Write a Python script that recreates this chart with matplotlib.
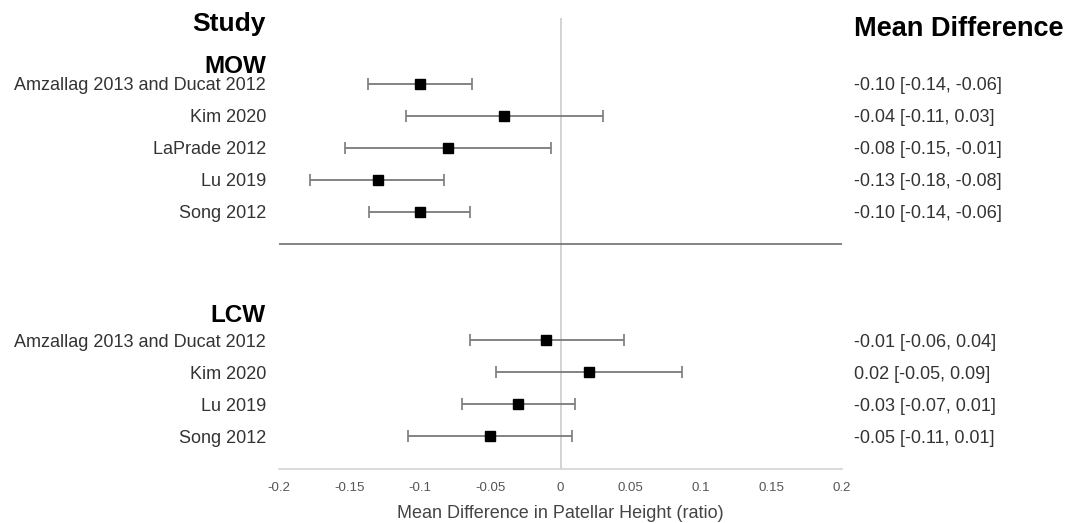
import matplotlib.pyplot as plt
from matplotlib.transforms import blended_transform_factory

# Subgroup MOW
mow_studies = ["Amzallag 2013 and Ducat 2012", "Kim 2020", "LaPrade 2012", "Lu 2019", "Song 2012"]
mow_mean = [-0.10, -0.04, -0.08, -0.13, -0.10]
mow_lo = [-0.137, -0.11, -0.153, -0.178, -0.136]
mow_hi = [-0.063, 0.03, -0.007, -0.083, -0.064]

# Subgroup LCW
lcw_studies = ["Amzallag 2013 and Ducat 2012", "Kim 2020", "Lu 2019", "Song 2012"]
lcw_mean = [-0.01, 0.02, -0.03, -0.05]
lcw_lo = [-0.064, -0.046, -0.070, -0.108]
lcw_hi = [0.045, 0.086, 0.010, 0.008]

xticks = [-0.2, -0.15, -0.1, -0.05, 0, 0.05, 0.1, 0.15, 0.2]
xtick_labels = ["-0.2", "-0.15", "-0.1", "-0.05", "0", "0.05", "0.1", "0.15", "0.2"]

plt.rcParams['font.family'] = ['Liberation Sans', 'DejaVu Sans']

W, H = 1069, 523
fig = plt.figure(figsize=(W / 100, H / 100), dpi=100)
ax = fig.add_axes([279 / W, 1 - 469 / H, (842 - 279) / W, (469 - 18) / H])

# row positions (one unit per study line)
mow_y = list(range(len(mow_studies)))
lcw_y = [8 + i for i in range(len(lcw_studies))]

ax.set_xlim(-0.2, 0.2)
ax.set_ylim(12.03, -2.06)

ax.axvline(0, color='#c8c8c8', lw=1.1, zorder=1)
ax.axhline(5.0, color='#6e6e6e', lw=1.2, zorder=1)


def draw_group(ys, means, los, his):
    xerr = [[m - lo for m, lo in zip(means, los)], [hi - m for m, hi in zip(means, his)]]
    ax.errorbar(means, ys, xerr=xerr, fmt='s', color='black', ms=6.5,
                ecolor='#7a7a7a', elinewidth=1.3, capsize=4, capthick=1.2, zorder=3)


draw_group(mow_y, mow_mean, mow_lo, mow_hi)
draw_group(lcw_y, lcw_mean, lcw_lo, lcw_hi)

for s in ['top', 'right', 'left']:
    ax.spines[s].set_visible(False)
ax.spines['bottom'].set_color('#d0d0d0')
ax.spines['bottom'].set_linewidth(1.1)
ax.set_yticks([])
ax.set_xticks(xticks)
ax.set_xticklabels(xtick_labels, fontsize=9.5, color='#555555')
ax.tick_params(axis='x', length=0, pad=9.5)
ax.set_xlabel("Mean Difference in Patellar Height (ratio)", fontsize=13, color='#444444', labelpad=8)

trans = blended_transform_factory(fig.transFigure, ax.transData)
xl = 266 / W
xr = 854 / W

ax.text(xl, -1.66, "Study", transform=trans, ha='right', va='baseline',
        fontsize=19, fontweight='bold', color='black', clip_on=False)
ax.text(xr, -1.5, "Mean Difference", transform=trans, ha='left', va='baseline',
        fontsize=19.5, fontweight='bold', color='black', clip_on=False)
ax.text(xl, -0.35, "MOW", transform=trans, ha='right', va='baseline',
        fontsize=17.5, fontweight='bold', color='black', clip_on=False)
ax.text(xl, 7.43, "LCW", transform=trans, ha='right', va='baseline',
        fontsize=17.5, fontweight='bold', color='black', clip_on=False)

for ys, names, means, los, his in [(mow_y, mow_studies, mow_mean, mow_lo, mow_hi),
                                   (lcw_y, lcw_studies, lcw_mean, lcw_lo, lcw_hi)]:
    for y, name, m, lo, hi in zip(ys, names, means, los, his):
        ax.text(xl, y, name, transform=trans, ha='right', va='center_baseline',
                fontsize=13, color='#333333', clip_on=False)
        ax.text(xr, y, f"{m:.2f} [{lo:.2f}, {hi:.2f}]", transform=trans, ha='left',
                va='center_baseline', fontsize=13, color='#333333', clip_on=False)

fig.savefig("out.png", dpi=100, facecolor='white')
